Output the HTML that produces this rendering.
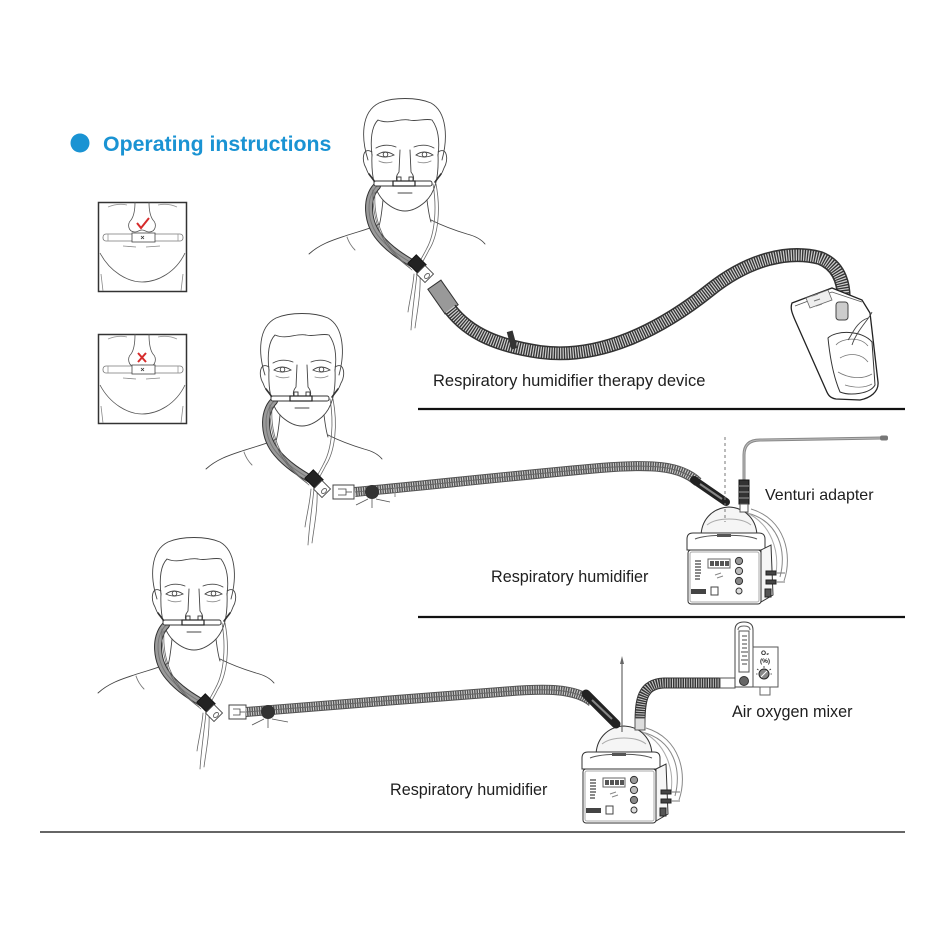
<!DOCTYPE html>
<html><head><meta charset="utf-8"><style>
html,body{margin:0;padding:0;background:#fff;}
svg{display:block;}
text{font-family:"Liberation Sans",Arial,sans-serif;}
</style></head><body>
<svg width="945" height="945" viewBox="0 0 945 945" xmlns="http://www.w3.org/2000/svg">
<defs>
<g id="face" fill="none" stroke="#444" stroke-width="0.9" stroke-linecap="round">
 <path d="M-37,62 C-44,40 -44,14 -26,5 C-12,-1 12,-1 26,5 C42,14 43,40 37,62"/>
 <path d="M-33,58 C-35,40 -33,28 -27,22 C-15,27 -6,20 4,22 C12,24 20,20 27,22 C33,30 35,42 33,58"/>
 <path d="M-33,56 C-34,80 -30,95 -20,104 C-12,111 -5,113 0,113 C5,113 12,111 20,104 C30,95 34,80 33,56"/>
 <path d="M-33,54 C-42,48 -44,62 -39,70 C-37,76 -34,80 -32,80"/>
 <path d="M33,54 C42,48 44,62 39,70 C37,76 34,80 32,80"/>
 <path d="M-29,50 Q-20,45 -9,49"/>
 <path d="M9,49 Q20,45 29,50"/>
 <path d="M-28,57 Q-20,51 -11,57 Q-20,61 -28,57Z"/>
 <circle cx="-19.5" cy="56.5" r="2.3"/>
 <path d="M11,57 Q19,51 28,57 Q19,61 11,57Z"/>
 <circle cx="19.5" cy="56.5" r="2.3"/>
 <path d="M-26,63 Q-20,66 -13,64 M13,64 Q20,66 26,63" stroke="#888"/>
 <path d="M-5,52 L-6,74 Q-10,79 -8,83 M5,52 L6,74 Q10,79 8,83"/>
 <path d="M-7,95 L7,95"/>
 <path d="M-22,102 C-23,112 -24,122 -26,128"/>
 <path d="M22,102 C23,110 24,118 26,124"/>
 <path d="M-96,156 C-85,146 -72,142 -60,138 C-45,133 -32,130 -26,126"/>
 <path d="M-58,139 C-56,145 -52,150 -50,152" stroke="#777"/>
 <path d="M26,122 C38,128 52,133 62,136 C70,138 76,141 80,146"/>
 <path d="M-36,76 L-30,84 M36,76 L30,84" stroke="#333" stroke-width="1.6"/>
 <path d="M-28,88 C-40,100 -38,125 -25,140 C-15,152 -2,160 10,167" stroke="#333" stroke-width="8"/>
 <path d="M-28,88 C-40,100 -38,125 -25,140 C-15,152 -2,160 10,167" stroke="#9a9a9a" stroke-width="6"/>
 <path d="M-28,88 C-40,100 -38,125 -25,140 C-15,152 -2,160 10,167" stroke="#777" stroke-width="1"/>
 <path d="M28,86 C32,110 30,135 22,150 C18,158 15,163 12,168" stroke="#666" stroke-width="0.8"/>
 <path d="M31,86 C36,112 33,138 24,152 C20,160 17,165 14,170" stroke="#666" stroke-width="0.8"/>
 <path d="M-32,92 C-33,122 -24,150 5,170" stroke="#666" stroke-width="0.8"/>
 <path d="M-30,94 C-32,125 -20,150 7,172" stroke="#666" stroke-width="0.8"/>
 <path d="M12,176 C10,195 7,215 6,232" stroke="#666" stroke-width="0.8"/>
 <path d="M15,176 C16,196 12,214 10,230" stroke="#666" stroke-width="0.8"/>
 <path d="M9,176 C8,190 4,205 3,214" stroke="#666" stroke-width="0.8"/>
 <rect x="-31" y="83" width="58" height="5" rx="2" fill="#fff" stroke="#333"/>
 <rect x="-8" y="79" width="4" height="6" fill="#fff" stroke="#333"/>
 <rect x="4" y="79" width="4" height="6" fill="#fff" stroke="#333"/>
 <rect x="-12" y="83" width="22" height="5" fill="#fff" stroke="#222" stroke-width="1.2"/>
 <rect x="-6" y="-7" width="12" height="14" transform="translate(12,166) rotate(-45)" fill="#222" stroke="#111"/>
 <rect x="-6" y="-6" width="12" height="12" transform="translate(20,176) rotate(-45)" fill="#fff" stroke="#444"/>
 <ellipse cx="22" cy="178" rx="3" ry="2" transform="rotate(-45 22 178)" stroke="#666"/>
</g>
<g id="hum" stroke="#333" stroke-width="1" fill="#fff">
 <path d="M60,-20 C92,-12 100,18 93,44" fill="none" stroke="#888"/>
 <path d="M64,-24 C98,-14 106,22 97,48" fill="none" stroke="#888"/>
 <path d="M56,-22 C86,-10 92,20 89,40" fill="none" stroke="#aaa"/>
 <path d="M14,4 C14,-12 24,-25 42,-26 C60,-25 70,-12 70,4Z" fill="#f5f5f5"/>
 <path d="M20,-8 C30,-16 54,-16 64,-8" fill="none" stroke="#aaa"/>
 <path d="M0,6 Q0,0 6,0 L72,0 Q78,0 78,6 L78,17 L0,17Z"/>
 <path d="M8,6 C20,1 58,1 70,6" fill="none" stroke="#555"/>
 <rect x="30" y="1" width="14" height="3" fill="#555" stroke="none"/>
 <path d="M74,17 L84,12 L86,62 L74,69Z" fill="#f6f6f6"/>
 <rect x="1" y="17" width="73" height="54" rx="3"/>
 <rect x="3" y="19" width="69" height="50" rx="2" fill="none" stroke="#aaa"/>
 <g stroke="#444" stroke-width="1.2">
  <path d="M8,28 L14,28 M8,31 L14,31 M8,34 L14,34 M8,37 L14,37 M8,40 L14,40 M8,43 L13,43 M8,46 L13,46"/>
 </g>
 <rect x="21" y="26" width="22" height="9" fill="#fff" stroke="#666"/>
 <rect x="23" y="28" width="4" height="5" fill="#555" stroke="none"/>
 <rect x="28" y="28" width="4" height="5" fill="#555" stroke="none"/>
 <rect x="33" y="28" width="4" height="5" fill="#555" stroke="none"/>
 <rect x="38" y="28" width="4" height="5" fill="#555" stroke="none"/>
 <path d="M28,42 L34,40 M30,45 L36,43" stroke="#888"/>
 <circle cx="52" cy="28" r="3.6" fill="#999"/>
 <circle cx="52" cy="38" r="3.6" fill="#bbb"/>
 <circle cx="52" cy="48" r="3.6" fill="#888"/>
 <circle cx="52" cy="58" r="3" fill="#ddd"/>
 <rect x="4" y="56" width="15" height="5" fill="#444" stroke="none"/>
 <rect x="24" y="54" width="7" height="8" fill="#fff" stroke="#444"/>
 <rect x="79" y="38" width="10" height="4" fill="#444" stroke="#222"/>
 <rect x="79" y="47" width="10" height="4" fill="#444" stroke="#222"/>
 <path d="M89,40 L98,40 M89,49 L98,49" stroke="#777"/>
 <rect x="78" y="56" width="6" height="8" fill="#555" stroke="#222"/>
</g>
</defs>

<circle cx="80" cy="143" r="9.5" fill="#1a93d3"/>
<text x="103" y="151" font-size="21.3" font-weight="bold" fill="#1a93d3">Operating instructions</text>

<g transform="translate(98,202)" fill="none" stroke="#555" stroke-width="0.8">
 <rect x="0.5" y="0.5" width="88" height="89" stroke="#333" stroke-width="1.5"/>
 <path d="M10,5 Q20,1 29,3 M60,3 Q70,1 79,5" stroke="#999"/>
 <path d="M37,0 C37,8 36,14 33,18 C29,22 30,30 37,30 C40,30 41,28 44,28 C47,28 48,30 51,30 C58,30 59,22 55,18 C52,14 51,8 51,0"/>
 <path d="M39,21 L43,26 L51,16" stroke="#d62b2b" stroke-width="2"/>
 <rect x="5" y="32" width="80" height="7" rx="3" fill="#fff" stroke="#777"/>
 <rect x="34" y="31" width="23" height="9" fill="#fff" stroke="#444"/>
 <path d="M10,32 L10,39 M80,32 L80,39" stroke="#999"/>
 <path d="M43,34 L46,37 M46,34 L43,37" stroke="#333"/>
 <path d="M25,44 L38,45 M48,45 L62,44" stroke="#888"/>
 <path d="M2,51 C12,70 30,80 44,80 C60,80 78,70 87,51"/>
 <path d="M3,72 L5,89 M85,72 L83,89" stroke="#888"/>
</g>
<g transform="translate(98,334)" fill="none" stroke="#555" stroke-width="0.8">
 <rect x="0.5" y="0.5" width="88" height="89" stroke="#333" stroke-width="1.5"/>
 <path d="M10,5 Q20,1 29,3 M60,3 Q70,1 79,5" stroke="#999"/>
 <path d="M37,0 C37,9 36,16 33,20 C29,24 30,32 37,33 C40,33 41,31 44,31 C47,31 48,33 51,33 C58,32 59,24 55,20 C52,16 51,9 51,0"/>
 <path d="M40,19 L48,28 M48,19 L40,28" stroke="#d62b2b" stroke-width="2"/>
 <rect x="5" y="32" width="80" height="7" rx="3" fill="#fff" stroke="#777"/>
 <rect x="34" y="31" width="23" height="9" fill="#fff" stroke="#444"/>
 <path d="M10,32 L10,39 M80,32 L80,39" stroke="#999"/>
 <path d="M43,34 L46,37 M46,34 L43,37" stroke="#333"/>
 <path d="M25,44 L38,45 M48,45 L62,44" stroke="#888"/>
 <path d="M2,51 C12,70 30,80 44,80 C60,80 78,70 87,51"/>
 <path d="M3,72 L5,89 M85,72 L83,89" stroke="#888"/>
</g>

<use href="#face" x="405" y="98"/>
<use href="#face" x="302" y="313"/>
<use href="#face" x="194" y="537"/>

<rect x="-8" y="-15" width="16" height="30" transform="translate(443,297) rotate(-35)" fill="#999" stroke="#333"/>
<path d="M450,309 C470,335 500,346 540,352 C600,360 660,330 710,290 C750,258 790,250 820,258 C840,266 846,285 843,310" fill="none" stroke="#333" stroke-width="14"/>
<path d="M450,309 C470,335 500,346 540,352 C600,360 660,330 710,290 C750,258 790,250 820,258 C840,266 846,285 843,310" fill="none" stroke="#cfcfcf" stroke-width="11" stroke-dasharray="1.2 1.3"/>
<rect x="-3" y="-9" width="6" height="18" transform="translate(512,340) rotate(-15)" fill="#333"/>
<path d="M792,303 L832,288 L862,300 L870,313 L878,382 C879,392 870,398 860,400 L836,399 C830,398 828,395 826,390 L795,320 C792,313 790,308 792,303Z" fill="#fff" stroke="#222" stroke-width="1.3"/>
<path d="M795,306 L832,292 L862,302" fill="none" stroke="#555" stroke-width="0.8"/>
<path d="M806,298 L828,290 L832,300 L810,308Z" fill="#eee" stroke="#666" stroke-width="0.8"/>
<path d="M812,296 L818,294 M814,301 L820,299 M816,306 L822,304" stroke="#777"/>
<rect x="836" y="302" width="12" height="18" rx="3" fill="#ccc" stroke="#444"/>
<path d="M828,338 C836,330 862,330 872,342 L875,385 C870,394 850,396 840,392 C834,378 830,358 828,338Z" fill="#fff" stroke="#333" stroke-width="1"/>
<path d="M836,345 C842,338 860,336 868,346 M840,358 C850,352 862,354 868,362 M838,372 C848,378 862,380 872,374 M845,385 C855,388 865,388 872,384" fill="none" stroke="#777" stroke-width="0.8"/>
<path d="M848,340 C852,335 856,322 868,318 M852,345 C857,330 870,318 872,312" fill="none" stroke="#444" stroke-width="0.9"/>
<text x="433" y="386" font-size="16.5" fill="#1e1e1e">Respiratory humidifier therapy device</text>
<line x1="418" y1="409" x2="905" y2="409" stroke="#111" stroke-width="2.3"/>

<rect x="333" y="485" width="21" height="14" fill="#fff" stroke="#444"/>
<path d="M338,489 L346,489 L346,495 L338,495 M346,492 L352,492" fill="none" stroke="#444" stroke-width="0.8"/>
<path d="M355,492 C420,486 520,475 600,468 C650,464 680,465 698,482" fill="none" stroke="#555" stroke-width="10"/>
<path d="M355,492 C420,486 520,475 600,468 C650,464 680,465 698,482" fill="none" stroke="#d4d4d4" stroke-width="8" stroke-dasharray="1 1.4"/>
<path d="M355,492 C420,486 520,475 600,468 C650,464 680,465 698,482" fill="none" stroke="#666" stroke-width="1"/>
<circle cx="372" cy="492" r="7" fill="#333"/>
<path d="M372,499 L372,508 M368,499 L356,505 M376,499 L390,502" stroke="#555" stroke-width="0.8"/>
<path d="M395,487 L395,497" stroke="#888"/>
<use href="#hum" x="687" y="533"/>
<path d="M694,480 L726,502" stroke="#222" stroke-width="8" stroke-linecap="round"/>
<path d="M700,484 L722,499" stroke="#888" stroke-width="2"/>
<line x1="725" y1="437" x2="725" y2="522" stroke="#777" stroke-width="1" stroke-dasharray="3 3"/>
<path d="M744,480 L744,455 Q744,440 760,440 L882,438" fill="none" stroke="#888" stroke-width="3"/>
<path d="M744,480 L744,455 Q744,440 760,440 L882,438" fill="none" stroke="#bbb" stroke-width="1"/>
<rect x="880" y="435.5" width="8" height="5" rx="2" fill="#777"/>
<rect x="739" y="480" width="10" height="24" fill="#333" stroke="#111"/>
<path d="M739,486 L749,486 M739,492 L749,492 M739,498 L749,498" stroke="#999"/>
<rect x="740" y="504" width="8" height="8" fill="#fff" stroke="#555"/>
<text x="765" y="500" font-size="16" fill="#1e1e1e">Venturi adapter</text>
<text x="491" y="582" font-size="16.2" fill="#1e1e1e">Respiratory humidifier</text>
<line x1="418" y1="617" x2="905" y2="617" stroke="#111" stroke-width="2.2"/>

<rect x="229" y="705" width="17" height="14" fill="#fff" stroke="#444"/>
<path d="M233,709 L240,709 L240,715 L233,715 M240,712 L245,712" fill="none" stroke="#444" stroke-width="0.8"/>
<path d="M246,712 C320,706 420,698 500,692 C545,688 575,688 592,702" fill="none" stroke="#555" stroke-width="10"/>
<path d="M246,712 C320,706 420,698 500,692 C545,688 575,688 592,702" fill="none" stroke="#d4d4d4" stroke-width="8" stroke-dasharray="1 1.4"/>
<path d="M246,712 C320,706 420,698 500,692 C545,688 575,688 592,702" fill="none" stroke="#666" stroke-width="1"/>
<circle cx="268" cy="712" r="7" fill="#333"/>
<path d="M268,719 L268,728 M264,719 L252,725 M272,719 L288,722" stroke="#555" stroke-width="0.8"/>
<use href="#hum" x="582" y="752"/>
<path d="M586,694 L616,724" stroke="#222" stroke-width="9" stroke-linecap="round"/>
<path d="M592,700 L612,719" stroke="#888" stroke-width="2"/>
<line x1="622" y1="664" x2="622" y2="732" stroke="#666" stroke-width="1.2"/>
<path d="M620,664 L622,656 L624,664Z" fill="#666"/>
<path d="M640,724 C640,700 642,684 664,683 L722,683" fill="none" stroke="#333" stroke-width="11"/>
<path d="M640,724 C640,700 642,684 664,683 L722,683" fill="none" stroke="#c8c8c8" stroke-width="9" stroke-dasharray="1 1.4"/>
<rect x="635" y="718" width="10" height="12" fill="#ddd" stroke="#555"/>
<rect x="720" y="678" width="15" height="10" fill="#fff" stroke="#555"/>
<path d="M735,687 L735,630 Q735,622 744,622 Q753,622 753,630 L753,687Z" fill="#fff" stroke="#444"/>
<path d="M738,630 Q738,626 744,626 Q750,626 750,630" fill="none" stroke="#666"/>
<rect x="739" y="631" width="10" height="41" fill="#fff" stroke="#555"/>
<path d="M742,636 L747,636 M742,640 L747,640 M742,644 L747,644 M742,648 L747,648 M741,652 L748,652 M742,656 L747,656 M741,660 L748,660 M742,664 L747,664" stroke="#444" stroke-width="0.9"/>
<circle cx="744" cy="681" r="4.5" fill="#666" stroke="#333"/>
<rect x="753" y="647" width="25" height="40" fill="#fff" stroke="#555"/>
<text x="765" y="655" font-size="6.5" font-weight="bold" text-anchor="middle" fill="#222">O₂</text>
<text x="765" y="663" font-size="6.5" font-weight="bold" text-anchor="middle" fill="#222">(%)</text>
<circle cx="764" cy="674" r="5" fill="#888" stroke="#222"/>
<path d="M764,666 L764,668 M757,669 L758.5,670 M771,669 L769.5,670 M756,674 L757.5,674 M772,674 L770.5,674" stroke="#333" stroke-width="0.8"/>
<path d="M761,677 L767,671" stroke="#fff" stroke-width="1"/>
<rect x="760" y="687" width="10" height="8" fill="#fff" stroke="#666"/>
<text x="732" y="717" font-size="16.2" fill="#1e1e1e">Air oxygen mixer</text>
<text x="390" y="795" font-size="16.2" fill="#1e1e1e">Respiratory humidifier</text>
<line x1="40" y1="832" x2="905" y2="832" stroke="#333" stroke-width="1.6"/>
</svg>
</body></html>
